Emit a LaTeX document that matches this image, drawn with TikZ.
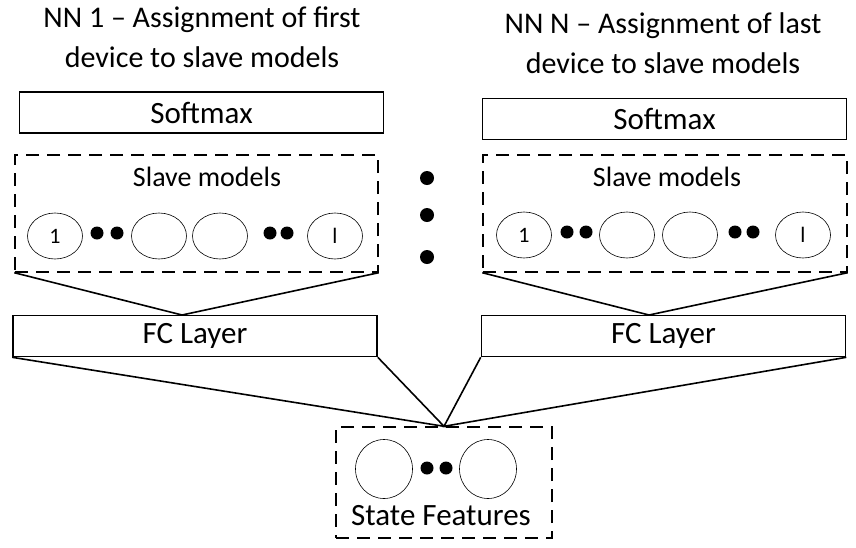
\documentclass[tikz,border=0pt]{standalone}
\usepackage{fontspec}
\setmainfont{Carlito}
\usetikzlibrary{shapes.geometric}

\begin{document}
\begin{tikzpicture}[x=1pt, y=-1pt,
    layer/.style={rectangle, draw, line width=1.6pt, minimum width=364pt, minimum height=41pt, inner sep=0pt, font=\fontsize{31}{34}\selectfont},
    group/.style={rectangle, draw, dash pattern=on 13pt off 8pt, line width=1.4pt, inner sep=0pt},
    unit/.style={ellipse, draw, line width=0.6pt, minimum width=55pt, minimum height=46pt, inner sep=0pt, font=\fontsize{22}{24}\selectfont},
    dot/.style={circle, fill, minimum size=13pt, inner sep=0pt},
    title/.style={align=center, font=\fontsize{30}{40}\selectfont},
    label/.style={font=\fontsize{28}{30}\selectfont},
    link/.style={line width=1.6pt}]

      \useasboundingbox (0,0) rectangle (856,547);

      % first network
      \node [title] (ttl1) at (202,37) {NN 1 – Assignment of first\\device to slave models};
      \node [layer] (soft1) at (201.5,112.5) {Softmax};
      \node [group, minimum width=363pt, minimum height=117pt] (slave1) at (196.5,213.5) {};
      \node [label] (sl1) at (207,177) {Slave models};
      \node [unit] (u11) at (55,236) {1};
      \node [dot]  (d11) at (97,233) {};
      \node [dot]  (d12) at (117,233) {};
      \node [unit] (u12) at (159,236) {};
      \node [unit] (u13) at (220,236) {};
      \node [dot]  (d13) at (270,233) {};
      \node [dot]  (d14) at (287,233) {};
      \node [unit] (u14) at (335,236) {l};
      \node [layer] (fc1) at (195,336) {FC Layer};
      \coordinate (top1) at (182,315);
      \draw [link] (slave1.south west) -- (top1) -- (slave1.south east);

      % vertical dots
      \node [dot, minimum size=14pt] (v1) at (427,178) {};
      \node [dot, minimum size=14pt] (v2) at (427,215) {};
      \node [dot, minimum size=14pt] (v3) at (427,257) {};

      % last network
      \node [title] (ttlN) at (663,43) {NN N – Assignment of last\\device to slave models};
      \node [layer] (softN) at (664.5,119) {Softmax};
      \node [group, minimum width=364pt, minimum height=117pt] (slaveN) at (665,213.5) {};
      \node [label] (slN) at (667,177) {Slave models};
      \node [unit] (uN1) at (524,235) {1};
      \node [dot]  (dN1) at (567,232) {};
      \node [dot]  (dN2) at (586,232) {};
      \node [unit] (uN2) at (627,235) {};
      \node [unit] (uN3) at (690,235) {};
      \node [dot]  (dN3) at (735,232) {};
      \node [dot]  (dN4) at (753,232) {};
      \node [unit] (uN4) at (803,235) {l};
      \node [layer] (fcN) at (663.5,336) {FC Layer};
      \coordinate (topN) at (649,315);
      \draw [link] (slaveN.south west) -- (topN) -- (slaveN.south east);

      % state features
      \node [group, minimum width=216pt, minimum height=111pt] (state) at (444,482.5) {};
      \node [unit, minimum width=57pt, minimum height=59pt] (s1) at (384,469) {};
      \node [dot]  (ds1) at (427,468) {};
      \node [dot]  (ds2) at (446,468) {};
      \node [unit, minimum width=57pt, minimum height=59pt] (s2) at (488,469) {};
      \node [label, font=\fontsize{31}{34}\selectfont] (stl) at (441,516) {State Features};

      \draw [link] (fc1.south west) -- (state.north) -- (fc1.south east);
      \draw [link] (fcN.south west) -- (state.north) -- (fcN.south east);
    \end{tikzpicture}
\end{document}
